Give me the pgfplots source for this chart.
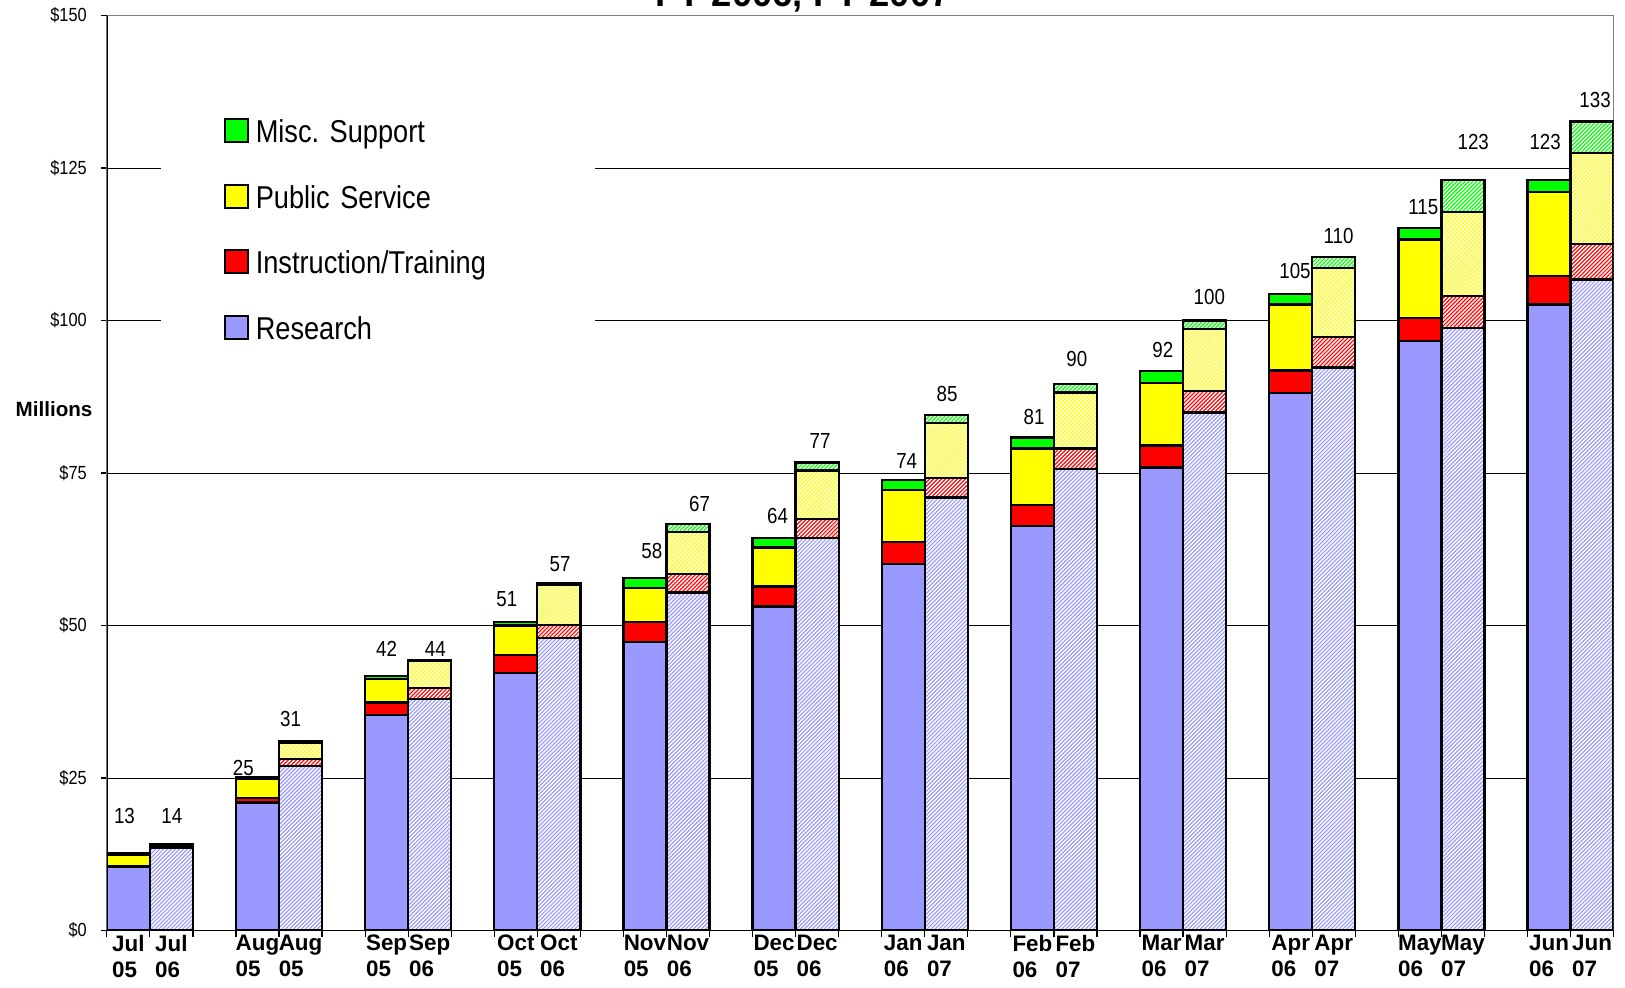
\documentclass[border=0pt]{standalone}
\usepackage{pgfplots}
\pgfplotsset{compat=1.18}
\usepackage{pgfplotstable}
\usetikzlibrary{patterns.meta}
\usepackage{fontspec}
\setmainfont{Liberation Sans}
\newfontfamily\narrow[FakeStretch=0.86]{Liberation Sans}
\definecolor{research}{HTML}{9999FF}
\definecolor{instr}{HTML}{FF0000}
\definecolor{pub}{HTML}{FFFF00}
\definecolor{misc}{HTML}{00FF00}

\pgfplotstableread{
x    R     I    P    M
0.5  10.4  0.15 1.9  0.3
3.5  21.0  0.7  3.2  0.2
6.5  35.3  2.1  3.8  0.5
9.5  42.2  3.0  4.8  0.6
12.5 47.3  3.3  5.6  1.6
15.5 53.1  3.3  6.4  1.6
18.5 60.1  3.6  8.5  1.7
21.5 66.3  3.5  9.2  1.8
24.5 75.9  3.6  10.3 1.9
27.5 88.1  3.7  10.8 1.8
30.5 96.6  3.8  12.9 1.9
33.5 102.6 4.7  13.8 1.9
}\yearone

\pgfplotstableread{
x    R     I    P    M
1.5  13.5  0.1  0.4  0.2
4.5  27.0  1.1  2.7  0.2
7.5  38.0  1.8  4.4  0.2
10.5 47.9  2.2  6.5  0.3
13.5 55.4  3.0  6.9  1.3
16.5 64.4  3.1  7.9  1.3
19.5 71.0  3.2  9.0  1.3
22.5 75.6  3.4  9.2  1.4
25.5 84.9  3.5  10.2 1.4
28.5 92.3  5.0  11.3 1.8
31.5 98.8  5.2  13.8 5.2
34.5 106.7 5.8  15.0 5.1
}\yeartwo

\pgfplotstableread{
x     y     lab
0.41  18.8  13
1.51  18.8  14
3.17  26.7  25
4.27  34.6  31
6.50  46.2  42
7.63  46.2  44
9.29  54.3  51
10.53 60.0  57
12.66 62.2  58
13.77 70.0  67
15.58 68.0  64
16.57 80.2  77
18.58 77.0  74
19.52 87.9  85
21.54 84.1  81
22.53 93.7  90
24.53 95.2  92
25.61 103.8 100
27.60 108.1 105
28.61 113.9 110
30.58 118.6 115
31.74 129.2 123
33.41 129.2 123
34.57 136.1 133
}\labels

\pgfplotsset{
  base/.style={scale only axis, width=753.4pt, height=457.5pt,
    xmin=0, xmax=35, ymin=0, ymax=150, at={(0pt,0pt)}, anchor=south west},
  bars/.style={draw=black, line width=1.15pt},
  hatch/.style={postaction={pattern={Lines[angle=45,distance=1.4pt,line width=0.7pt]},pattern color=white}},
  sw/.style={legend image code/.code={\draw[##1,draw=black,line width=0.9pt] (0pt,-3.8pt) rectangle (11.5pt,7.7pt);}},
}

\begin{document}
\begin{tikzpicture}
\begin{axis}[base, ybar stacked, bar width=1,
  axis line style={draw=gray, line width=0.8pt},
  tick pos=left,
  ytick={25,50,75,100,125}, yticklabels={\$25,\$50,\$75,\$100,\$125},
  extra y ticks={0,150}, extra y tick labels={\$0,\$150},
  extra y tick style={grid=none},
  yticklabel style={font=\narrow\fontsize{9.5}{11}\selectfont, xshift=-3.5pt},
  ymajorgrids, major grid style={black, line width=0.5pt},
  tick align=outside, major tick length=3pt, tick style={black, line width=0.6pt},
  xtick={0,...,35}, xticklabels={},
  extra x ticks={0.5,1.5,3.5,4.5,6.5,7.5,9.5,10.5,12.5,13.5,15.5,16.5,18.5,19.5,21.5,22.5,24.5,25.5,27.5,28.5,30.5,31.5,33.5,34.5},
  extra x tick labels={{Jul\\05},{Jul\\06},{Aug\\05},{Aug\\05},{Sep\\05},{Sep\\06},{Oct\\05},{Oct\\06},{Nov\\05},{Nov\\06},{Dec\\05},{Dec\\06},{Jan\\06},{Jan\\07},{Feb\\06},{Feb\\07},{Mar\\06},{Mar\\07},{Apr\\06},{Apr\\07},{May\\06},{May\\07},{Jun\\06},{Jun\\07}},
  extra x tick style={major tick length=0pt, grid=none,
    tick label style={font=\bfseries\fontsize{11.2}{13}\selectfont, align=left, anchor=north, inner sep=2pt}},
  every axis y label/.style={at={(rel axis cs:-0.035,0.57)}, anchor=center},
  ylabel={\bfseries\fontsize{10.3}{12}\selectfont Millions},
  title={FY 2006, FY 2007},
  every axis title/.style={at={(rel axis cs:0.462,1)}, anchor=base, yshift=4.5pt, inner sep=0pt, font=\bfseries\fontsize{18.2}{22}\selectfont},
  reverse legend,
  legend cell align=left,
  legend style={at={(rel axis cs:0.0357,0.915)}, anchor=north west, draw=none, fill=white,
    font=\narrow\fontsize{15.8}{18}\selectfont, row sep=17.1pt, column sep=3.5pt, inner xsep=31.5pt, inner ysep=12.4pt,
    nodes={text height=11.5pt, text depth=3.5pt, inner sep=0pt, text width=138pt}},
]
\addplot[bars, fill=research, sw] table[x=x, y=R]{\yearone};
\addlegendentry{Research}
\addplot[bars, fill=instr, sw] table[x=x, y=I]{\yearone};
\addlegendentry{Instruction/Training}
\addplot[bars, fill=pub, sw] table[x=x, y=P]{\yearone};
\addlegendentry{Public Service}
\addplot[bars, fill=misc, sw] table[x=x, y=M]{\yearone};
\addlegendentry{Misc.\ Support}
\draw[black, line width=0.8pt] (rel axis cs:0,1) -- (rel axis cs:0,0) -- (rel axis cs:1,0);
\end{axis}

\begin{axis}[base, ybar stacked, bar width=1, hide axis]
\addplot[bars, fill=research, hatch] table[x=x, y=R]{\yeartwo};
\addplot[bars, fill=instr, hatch] table[x=x, y=I]{\yeartwo};
\addplot[bars, fill=pub, hatch] table[x=x, y=P]{\yeartwo};
\addplot[bars, fill=misc, hatch] table[x=x, y=M]{\yeartwo};
\end{axis}

\begin{axis}[base, hide axis, clip=false]
\addplot[draw=none, mark=none, nodes near coords, point meta=explicit symbolic,
  nodes near coords style={font=\narrow\fontsize{10.9}{12}\selectfont, anchor=center, inner sep=0pt}]
  table[x=x, y=y, meta=lab]{\labels};
\end{axis}

\pgfresetboundingbox
\path[use as bounding box] (-53.4pt,-28.25pt) rectangle (759.1pt,465.25pt);
\end{tikzpicture}
\end{document}
